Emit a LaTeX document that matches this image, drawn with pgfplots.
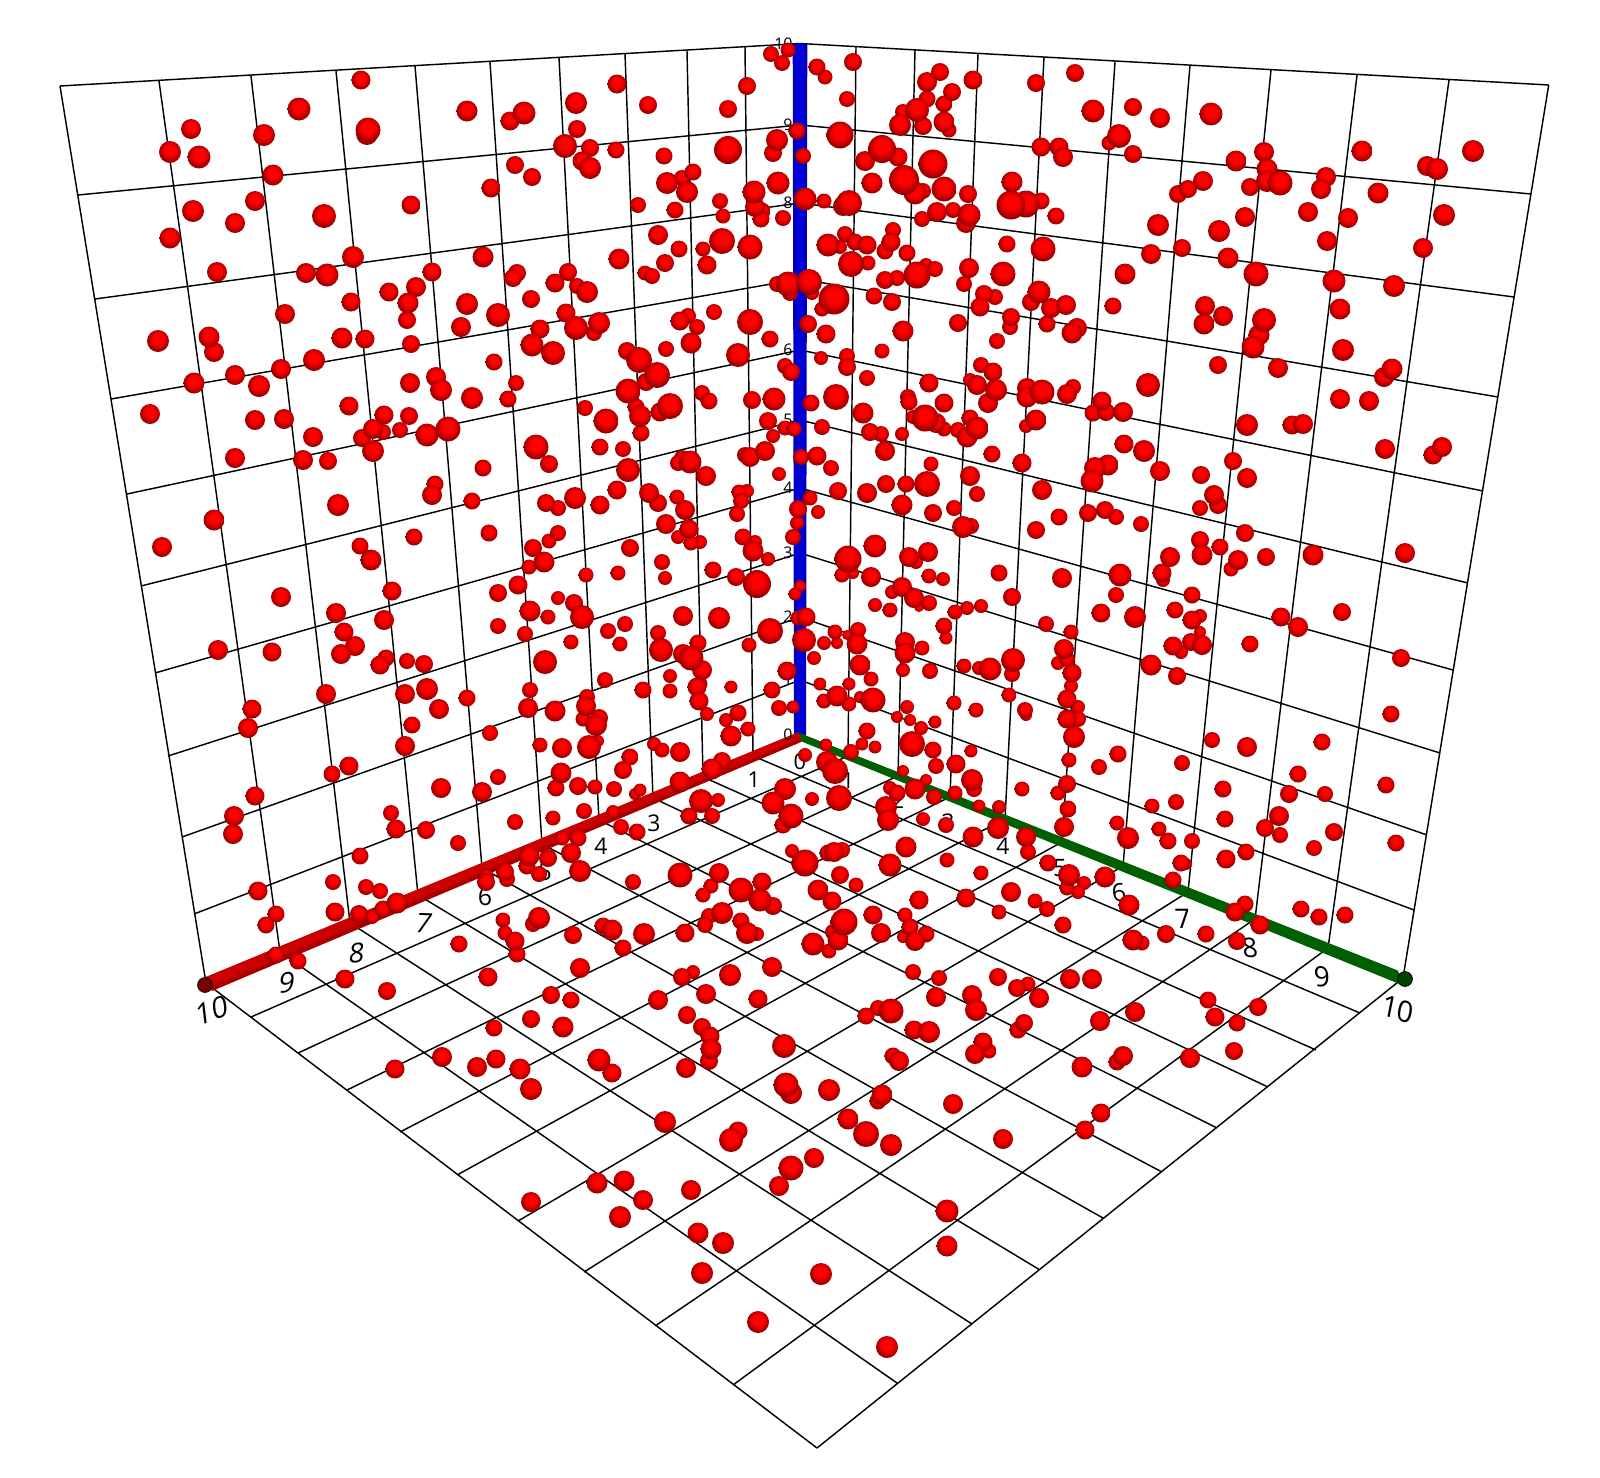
\documentclass[border=0pt]{standalone}
\usepackage{pgfplots}
\usepackage{pgfplotstable}
\usepackage{fontspec}
\pgfplotsset{compat=1.18}
\setmainfont{Open Sans}
\newfontfamily\leanL[FakeSlant=0.2]{Open Sans}
\newfontfamily\leanR[FakeSlant=-0.12]{Open Sans}
\definecolor{tuberedA}{HTML}{A80000}
\definecolor{tuberedB}{HTML}{CC0000}
\definecolor{tubegreen}{HTML}{005F00}
\definecolor{tubeblueA}{HTML}{0000BE}
\definecolor{tubeblueB}{HTML}{0000D8}
\definecolor{ballA}{RGB}{240,0,0}
\definecolor{ballB}{RGB}{210,0,0}
\definecolor{ballC}{RGB}{165,0,0}
\definecolor{ballD}{RGB}{110,0,0}
\definecolor{ballE}{RGB}{100,0,0}
\pgfdeclareradialshading{redball}{\pgfpoint{0bp}{6bp}}{%
  color(0bp)=(red); color(11bp)=(red); color(14bp)=(ballA); color(18bp)=(ballB);
  color(24bp)=(ballC); color(29bp)=(ballD); color(50bp)=(ballE)}
\pgfdeclareplotmark{rball}{%
  \pgfpathcircle{\pgfpointorigin}{\pgfplotmarksize}%
  \pgfshadepath{redball}{0}%
  \pgfusepath{discard}}
\pgfplotstableread{
x y r
361 80 9.5
299 109 11.5
367 134 11
368 130 12.5
191 129 10
264 135 11
170 152 11
199 157 11.5
273 175 10.5
255 201 10
193 211 11
235 223 10
324 216 12
170 238 10.5
217 272 10
353 257 11
306 273 10
327 275 11.5
351 302 9.5
389 292 9.5
285 314 10
158 341 11
209 337 10.5
214 352 10
342 338 10.5
365 339 9.5
314 360 11
281 369 10
235 375 10
259 386 11
194 383 10.5
150 414 10
349 406 9.5
384 415 9.5
255 420 10
284 419 10
313 437 10
373 429 10
383 432 8
362 438 9
373 451 11
235 458 10
303 460 10
328 461 9
338 505 11
467 111 10.5
510 121 9.5
524 113 11.5
576 103 11
577 129 9
617 84 9.5
648 105 9
728 109 9
747 86 9
771 54 8
788 50 7.5
782 63 8
565 146 12
590 148 9
616 150 8.5
582 161 9.5
590 168 11
515 165 9
532 177 9
664 156 8.5
728 150 14
777 140 11
773 153 9
797 131 8.5
803 156 8
491 188 9.5
411 205 9.5
638 205 8
682 178 8
667 183 11
693 172 8.5
687 192 11
720 201 8
675 210 8.5
723 216 7.5
754 192 11.5
778 183 11.5
805 199 11.5
755 207 10
762 211 8.5
761 219 8.5
783 218 8
658 235 10
679 249 8.5
703 249 7.5
722 241 13
750 247 12.5
707 265 9.5
619 259 10.5
665 263 9
645 273 7.5
652 276 8
483 257 10.5
432 272 9.5
517 273 9
513 278 9
568 272 9
555 283 9.5
577 286 8
587 292 11
416 287 10
408 303 10.5
531 299 9
467 304 11
498 315 12
407 320 9
461 327 10
566 313 9.5
599 323 11
576 328 12
594 333 8
540 329 9.5
411 344 9
532 345 11.5
553 353 12
494 362 8.5
777 284 8
788 284 12.5
809 282 13
790 293 8
688 316 8
680 321 9.5
697 327 8
714 312 8
750 322 13
691 343 10.5
770 339 8.5
808 324 9
627 351 9
639 360 13
666 349 8
738 355 12
785 366 8
791 372 9
657 375 13
646 382 9
628 391 12.5
516 383 8
410 383 10
436 377 10
441 390 11
472 398 11
508 399 8.5
702 393 8
709 401 8.5
752 400 9
774 399 11.5
811 403 8.5
585 408 8
636 407 8.5
660 412 9.5
670 406 13
640 416 11
606 421 12.5
409 416 9
427 435 11.5
448 429 12.5
400 430 8
641 433 8.5
768 421 9
785 428 7.5
794 429 7.5
773 436 7
600 447 8.5
623 449 8
536 447 12.5
549 464 9
483 468 8.5
682 458 8
678 463 8
690 462 11.5
706 476 10
628 470 12
745 455 8
750 457 10
765 451 10
801 457 8
817 456 9.5
779 474 7
435 484 8.5
432 495 10
472 501 8.5
617 490 9.5
649 493 10
658 503 9
677 497 7.5
739 492 7.5
747 491 7
741 501 8
810 498 7.5
575 498 11
546 503 9
600 505 9.5
558 508 8
685 510 10
798 509 9
817 67 8.5
825 77 7.5
853 62 9
847 99 8
940 72 9
927 82 10
952 92 9
973 80 9.5
1036 83 9
1075 73 9
927 99 8.5
944 104 8.5
903 112 8
917 110 12
900 125 11
923 126 9
944 122 10.5
949 130 7.5
1093 111 11.5
1133 107 9
1160 118 10
1119 136 12
1109 143 7.5
840 135 13.5
882 149 14
865 161 10
898 157 9.5
933 164 14.5
1041 147 9.5
1059 147 9.5
1063 157 10
1133 154 9
872 183 10.5
904 180 15
915 193 11.5
923 191 8
944 189 12.5
968 194 9
1012 182 10.5
1011 205 14.5
1026 204 13.5
1041 201 8.5
1056 216 8.5
1178 194 9
1188 189 9
824 201 7.5
843 206 10
849 203 13
922 219 8
937 212 10
953 210 8
969 215 11.5
966 223 10
1158 225 11
828 245 11.5
840 247 7
845 234 8
855 242 8.5
867 245 9.5
893 230 8
891 242 9.5
885 251 8.5
907 253 8.5
1007 244 8.5
1043 249 12.5
1151 254 10
1182 248 9
851 264 13
868 263 7.5
885 280 9
897 278 8
917 275 13.5
926 265 7
935 269 8
969 268 10
1003 274 12.5
1125 274 10.5
812 293 7
834 299 15.5
822 309 7.5
874 296 8.5
892 302 9
964 284 8
984 294 9
995 297 8
980 307 9.5
1031 302 9
1039 292 11.5
1051 308 10
1066 305 10
1113 306 8.5
826 334 9.5
903 331 10.5
958 323 9
1011 317 9
1010 327 8
1047 324 8.5
1077 328 10
1072 333 10.5
997 341 8
882 351 7.5
821 358 7
847 356 8
847 367 9
867 378 8
981 365 8
993 372 9.5
929 383 9.5
970 380 7
977 385 10
996 390 11
1073 387 8
1067 394 10
1027 388 10
1027 397 10.5
1042 392 12.5
1148 385 12
988 403 10
908 397 8
909 402 8.5
836 397 13
944 403 9.5
1102 401 9.5
1093 413 8.5
1106 412 9
1123 412 10
863 413 10.5
913 417 7
925 418 13.5
936 423 10
944 429 7.5
970 418 8.5
958 430 8
977 428 11.5
967 437 10.5
1026 426 7
1036 420 10.5
822 427 8
870 432 9
881 434 8
902 434 7
885 451 10
992 454 8.5
1022 463 9.5
1124 444 9.5
1144 451 11
831 468 8
931 464 7.5
970 476 10
1108 465 10.5
1095 468 11
1092 481 11.5
1160 471 10
838 491 9
867 493 10
886 484 9
906 484 8.5
927 484 13
977 494 8
1042 490 10
902 505 10.5
933 513 9
954 508 8
1088 513 9
1105 510 9
818 512 7
1211 114 11.5
1473 151 11
1362 151 10.5
1427 166 10
1437 169 11
1264 152 10
1236 161 10.5
1267 169 10.5
1267 181 11
1280 183 12.5
1250 187 9
1203 181 10
1326 177 10
1321 189 10
1378 193 10.5
1245 217 10
1308 212 10
1348 218 10
1444 215 11
1219 231 11
1327 241 10
1423 248 10
1228 258 10.5
1256 274 12.5
1334 281 11.5
1394 286 11
1340 309 10.5
1205 306 10
1223 316 10
1204 324 10.5
1264 320 12
1259 335 10.5
1253 347 11.5
1343 350 11
1218 365 9
1278 368 10
1392 369 10.5
1384 377 10
1340 399 10
1369 401 10
1247 425 11
1292 425 9.5
1303 424 10
1385 449 10
1442 447 10
1433 455 9.5
1233 461 9
1201 475 9
1247 478 10
1214 495 10
1218 505 9
1200 508 8
214 520 10.5
162 547 10
414 537 8.5
489 533 8.5
360 546 8.5
371 560 10.5
392 591 9.5
281 597 10
498 593 9
336 613 10
384 620 10
498 626 8
344 632 9.5
355 646 10
341 654 10
218 650 10
272 652 9.5
386 658 8.5
380 665 9.5
407 661 8
424 664 9
427 689 11
405 694 10
326 694 10
467 698 8.5
439 709 10
252 709 9.5
248 728 10
412 725 8.5
490 733 8
405 746 10
349 766 9.5
332 774 8.5
441 788 10
482 792 10
498 777 8
255 796 9.5
234 816 10
233 834 10
391 813 8
396 829 9.5
426 830 9
458 843 8
360 856 8.5
333 882 8
258 891 9.5
366 887 8
380 891 8
486 877 8
486 882 9
397 903 10.5
383 909 8.5
372 917 7
359 914 9
335 912 9.5
276 914 8.5
266 925 8.5
276 955 8.5
298 961 8.5
345 979 9.5
387 991 9
459 944 8.5
488 977 9.5
666 524 10
689 529 9.5
678 537 7
700 542 7
691 543 7.5
737 514 8
797 523 7
743 537 8.5
755 542 7
753 551 10.5
768 559 7
793 537 8
558 533 8
549 541 7.5
533 548 9
544 562 10.5
529 567 7.5
630 548 9
662 562 8
665 578 7
713 570 8.5
736 577 9
757 584 14
586 575 7.5
618 573 7.5
518 585 9.5
800 586 6
795 594 6.5
558 598 7
574 603 9
530 611 10.5
548 617 7.5
582 617 12
683 616 10
719 618 11
625 624 8
608 631 8
525 634 8
770 631 13
798 618 7.5
806 617 9.5
804 640 12
571 642 7.5
620 644 7.5
658 633 8
661 650 12
698 643 8.5
749 645 7.5
683 654 10
691 658 12.5
702 670 10
545 662 12
670 676 7
605 680 8
700 684 7.5
697 687 9.5
643 690 8.5
670 691 7.5
731 687 6.5
787 671 9.5
772 690 8.5
699 701 9.5
779 708 8
793 707 6.5
707 714 7
738 713 8.5
726 720 7
748 729 7.5
731 736 10.5
530 690 8
528 708 10
555 711 10.5
586 706 10
587 697 8
599 718 9
583 719 7.5
596 725 11
540 745 7.5
562 748 10
589 747 12
598 741 6
654 744 7
662 750 7.5
680 752 10
630 757 8.5
623 770 9
561 773 10.5
556 788 8.5
578 786 9
595 787 7.5
614 789 8
640 790 6.5
635 794 6
722 761 9
712 769 10.5
680 782 10.5
701 801 12
718 800 7
689 816 8.5
712 816 8
515 822 8
553 818 7.5
584 811 8
613 812 7
621 827 8
637 832 8.5
562 838 7.5
578 838 8.5
571 853 10
580 871 11
548 858 9
529 856 10.5
527 866 8.5
539 874 8
505 872 9
507 879 8
633 882 8
680 875 12.5
719 873 10
711 886 7.5
703 895 7.5
741 890 12.5
762 882 9.5
760 900 11.5
773 906 9
792 851 7
805 863 13.5
828 853 8.5
842 850 8
834 852 10
890 865 11.5
840 875 9
856 885 7.5
818 890 10.5
832 901 9.5
873 915 9.5
881 933 10
844 922 13.5
838 940 10.5
813 944 11.5
829 951 7.5
833 932 8
772 967 10
785 789 11
773 803 11.5
791 816 12.5
783 825 8.5
812 799 7
839 798 13
886 807 11
888 820 11
890 788 7
897 793 8.5
805 755 7
826 745 6.5
827 762 11
835 771 13
851 752 8
862 744 6.5
875 747 6.5
867 731 8.5
835 632 7.5
824 643 7
837 643 6
847 635 5
858 630 8
857 644 10.5
860 665 10.5
814 658 7
871 679 7.5
820 684 6.5
849 684 6.5
824 701 7.5
837 696 10.5
849 704 7.5
860 697 6
873 700 12.5
848 559 13.5
875 546 11.5
842 575 7.5
853 573 6
871 577 10
875 605 7
890 610 7.5
892 592 7
897 717 6
963 527 11
971 526 8
1036 530 9
1059 517 8.5
1116 517 8
1141 524 8
1245 533 9
928 552 10
909 557 10
916 562 7
1200 540 9
1220 547 8.5
1202 555 10.5
1170 557 10
1162 573 9.5
1163 580 7
1238 560 10
1231 569 7.5
1266 557 9
1313 555 10.5
1405 553 10
1120 575 11.5
1062 578 10
999 573 8.5
929 576 7.5
943 579 7
902 587 10
914 598 10
929 603 8
919 607 5
1012 597 9
1116 595 8
1192 595 8.5
955 612 7.5
967 608 7
981 606 7
1101 613 9.5
1135 617 11
1175 610 8.5
1281 617 9.5
1298 627 10
1342 612 9
1046 624 8
1192 620 9.5
1200 616 7
1200 632 6
944 626 8.5
946 638 6.5
1071 632 7.5
1191 642 9
1173 646 9.5
1181 652 7
1202 645 10
1250 644 8.5
1064 649 10
905 642 10
905 653 10.5
922 648 7.5
1401 658 9
1151 665 10.5
1177 676 9
1058 663 7
1067 659 8
1072 673 9.5
964 666 7.5
979 668 7
990 669 11.5
1013 660 12
1012 674 8
930 671 8
903 670 7
1071 686 7
1009 695 7.5
954 703 7.5
976 710 7.5
1025 710 8
1026 715 6
1067 699 9.5
1078 707 7
1067 719 9.5
1078 719 8
1391 714 8.5
907 707 7
910 720 6
935 722 6.5
921 728 7
912 744 13
933 750 8.5
1074 737 11
1212 740 8
1247 747 10
1322 742 8.5
971 751 6.5
1069 760 7.5
1118 754 8.5
1099 767 8
1182 763 8
936 766 8
956 764 9.5
1298 774 8.5
903 771 6
972 780 11
974 789 8
926 780 6
915 789 10.5
934 797 8
955 793 7.5
1022 789 7.5
1067 784 9
1058 793 7.5
1223 789 8.5
1289 794 9
1325 794 8
1386 785 8.5
1176 802 8
1152 806 7.5
979 806 6.5
999 807 7
1068 809 8.5
1225 819 8.5
1279 816 10
1064 827 10
998 828 11
1117 823 7.5
1159 829 7.5
1265 828 9
1280 835 8
1334 832 9
1396 843 8.5
1128 838 11
1168 841 8.5
1192 841 8
1314 848 8
973 837 10.5
946 825 8
923 819 7
1026 837 10
906 847 10.5
1028 852 8
1246 852 8.5
1226 859 9.5
947 860 7.5
1048 863 8.5
1181 863 8.5
1186 864 6
981 873 7.5
1069 875 11
1105 877 10.5
1084 883 7
1173 880 8.5
1067 888 7.5
1078 892 7
919 900 9.5
1011 892 10
966 898 9.5
1129 905 10.5
1035 901 7.5
1047 909 8
999 912 7.5
1245 904 8.5
1235 912 9.5
1301 909 8.5
1319 917 8.5
1345 915 8.5
1260 925 9.5
905 915 7.5
1063 925 8.5
910 927 8.5
926 934 8.5
903 937 6
915 941 10
1237 941 9
1166 934 9
1206 934 8.5
1133 940 10.5
1142 943 7.5
580 968 10
573 935 9
612 930 10.5
603 926 8.5
644 934 11
685 933 9.5
623 948 8.5
539 918 11
533 924 8
503 920 7.5
505 933 7.5
515 941 9.5
517 954 8.5
722 913 11
709 916 8
705 925 8
741 921 8.5
747 933 11
757 934 7
682 977 9
693 972 7
730 975 11
913 972 8
939 978 8
998 977 9
1028 984 7.5
1017 988 9
1070 979 10
1092 979 10
936 997 10
972 995 10
1039 998 10
1208 1000 8.5
1258 1007 9
976 1010 11
1135 1012 10
1215 1017 9.5
1237 1023 8.5
1023 1023 7
551 995 9
571 1000 8.5
531 1019 9
563 1027 10.5
494 1028 8.5
658 1000 10
706 994 10
758 999 9.5
687 1015 9
702 1027 9
710 1036 9.5
711 1049 10.5
709 1061 9
784 1046 12
442 1057 10
477 1067 10
496 1059 9.5
395 1069 9.5
520 1069 10.5
531 1089 11
599 1060 11.5
612 1073 9.5
686 1068 10
786 1085 12.5
791 1093 11
829 1090 11
848 1119 10.5
866 1134 13
665 1122 11
738 1131 9.5
731 1140 12
814 1158 10
791 1168 12.5
779 1186 10
531 1202 10
597 1183 10.5
624 1181 10.5
643 1200 10
620 1217 11
691 1190 10
698 1233 10.5
723 1243 11
702 1273 11
821 1274 11
758 1322 11
866 1016 8.5
878 1008 8
891 1011 12.5
914 1030 9.5
929 1032 11
893 1056 8.5
899 1061 10
983 1042 9.5
989 1051 7.5
975 1054 10
1018 1030 8.5
1024 1023 9
1100 1021 10
1234 1051 9
1190 1058 10
1123 1056 10
1117 1062 8.5
1082 1067 10.5
1101 1113 9.5
1085 1130 9.5
1003 1139 10
953 1104 10
882 1095 10.5
878 1101 8.5
891 1145 11
947 1211 11.5
947 1246 10.5
887 1347 11
}\balldata
\newcommand\ballbin[3]{%
  \addplot[only marks, mark=rball, mark size=#1pt,
    restrict expr to domain={\thisrow{r}}{#2:#3}]
    table[x=x,y=y]{\balldata};}
\begin{document}
\begin{tikzpicture}
\begin{axis}[
  scale only axis, width=800pt, height=738.5pt,
  xmin=0, xmax=1600, ymin=0, ymax=1477, y dir=reverse,
  hide axis, clip=false, unbounded coords=jump]
\path (axis cs:0,0) (axis cs:1600,1477);
% grid
\addplot[black, line width=0.72pt, mark=none] coordinates {
(60,86)(800,43.5) (nan,nan)
(60,86)(206,983) (nan,nan)
(159,81)(280,952) (nan,nan)
(251,76)(350,923) (nan,nan)
(336,71)(418,895) (nan,nan)
(415,66)(482,868) (nan,nan)
(490,62)(542,844) (nan,nan)
(559,58)(599,820) (nan,nan)
(625,54)(653,798) (nan,nan)
(687,51)(703,777) (nan,nan)
(745,47)(753,756) (nan,nan)
(78,195)(800,125) (nan,nan)
(95,299)(800,203) (nan,nan)
(111,399)(800,279) (nan,nan)
(127,494)(800,350) (nan,nan)
(141,586)(800,420) (nan,nan)
(155,673)(800,488) (nan,nan)
(168,756)(800,553) (nan,nan)
(182,837)(800,617) (nan,nan)
(194,914)(800,680) (nan,nan)
(800,43.5)(1548.7,85) (nan,nan)
(1548.7,85)(1403,978) (nan,nan)
(800,125)(1531,194) (nan,nan)
(800,203)(1514,297) (nan,nan)
(800,279)(1498,397) (nan,nan)
(800,350)(1483,491) (nan,nan)
(800,420)(1468,583) (nan,nan)
(800,488)(1453,670) (nan,nan)
(800,553)(1440,753) (nan,nan)
(800,617)(1427,835) (nan,nan)
(800,680)(1414,910) (nan,nan)
(856,47)(848,756) (nan,nan)
(915,50)(898,776) (nan,nan)
(978,54)(950,797) (nan,nan)
(1044,57)(1005,819) (nan,nan)
(1115,62)(1062,842) (nan,nan)
(1190,65)(1123,866) (nan,nan)
(1271,70)(1188,892) (nan,nan)
(1357,75)(1255,919) (nan,nan)
(1449,80)(1328,948) (nan,nan)
(753,756)(1360,1013) (nan,nan)
(703,777)(1316,1050) (nan,nan)
(653,798)(1268,1087) (nan,nan)
(599,820)(1217,1128) (nan,nan)
(542,844)(1162,1172) (nan,nan)
(482,868)(1103,1218) (nan,nan)
(418,895)(1040,1270) (nan,nan)
(350,923)(972,1324) (nan,nan)
(280,952)(897,1383) (nan,nan)
(206,983)(817,1448) (nan,nan)
(848,756)(251,1017) (nan,nan)
(898,776)(298,1053) (nan,nan)
(950,797)(347,1090) (nan,nan)
(1005,819)(400,1132) (nan,nan)
(1062,842)(457,1175) (nan,nan)
(1123,866)(518,1221) (nan,nan)
(1188,892)(584,1272) (nan,nan)
(1255,919)(655,1326) (nan,nan)
(1328,948)(733,1385) (nan,nan)
(1403,978)(817,1448)
};
% tubes
\addplot[fill=tubeblueA, draw=none] coordinates {(792.7,43.5)(807.3,43.5)(806,735)(794,735)};
\addplot[fill=tubeblueB, draw=none] coordinates {(796,43.5)(804,43.5)(803,735)(797,735)};
\addplot[only marks, mark=*, mark size=3.7pt, mark options={fill=tuberedA!70!black, draw=none}] coordinates {(205,985)};
\addplot[only marks, mark=*, mark size=3.7pt, mark options={fill=tubegreen!70!black, draw=none}] coordinates {(1405,979)};
\addplot[fill=tuberedA, draw=none] coordinates {(206,977)(212,991)(802,741.6)(798,732.4)};
\addplot[fill=tuberedB, draw=none] coordinates {(206,977)(210,986.5)(800.7,738.5)(798,732.4)};
\addplot[fill=tubegreen, draw=none] coordinates {(1398,970.6)(1403,985.4)(801.9,741.6)(798.1,732.4)};
% labels
\node[font=\fontsize{14.5}{14.5}\leanL,rotate=18] at (axis cs:210,1011) {10};
\node[font=\fontsize{14}{14}\leanL,rotate=5] at (axis cs:285,983) {9};
\node[font=\fontsize{13.5}{13.5}\leanL,rotate=5] at (axis cs:355,953) {8};
\node[font=\fontsize{13.5}{13.5}\leanL,rotate=-2] at (axis cs:422,923) {7};
\node[font=\fontsize{12.5}{12.5}\selectfont] at (axis cs:485,897) {6};
\node[font=\fontsize{12}{12}\selectfont] at (axis cs:545,872) {5};
\node[font=\fontsize{11.5}{11.5}\selectfont] at (axis cs:601,846) {4};
\node[font=\fontsize{11.5}{11.5}\selectfont] at (axis cs:654,823) {3};
\node[font=\fontsize{11}{11}\selectfont] at (axis cs:705,801) {2};
\node[font=\fontsize{11}{11}\selectfont] at (axis cs:754,780) {1};
\node[font=\fontsize{11}{11}\selectfont] at (axis cs:800,762) {0};
\node[font=\fontsize{11}{11}\selectfont] at (axis cs:848,781) {1};
\node[font=\fontsize{11}{11}\selectfont] at (axis cs:898,801) {2};
\node[font=\fontsize{11.5}{11.5}\selectfont] at (axis cs:948,822) {3};
\node[font=\fontsize{11.5}{11.5}\selectfont] at (axis cs:1003,846) {4};
\node[font=\fontsize{12}{12}\selectfont] at (axis cs:1060,868) {5};
\node[font=\fontsize{12.5}{12.5}\leanR] at (axis cs:1120,893) {6};
\node[font=\fontsize{13.5}{13.5}\leanR] at (axis cs:1184,919) {7};
\node[font=\fontsize{13.5}{13.5}\leanR] at (axis cs:1251,948) {8};
\node[font=\fontsize{14}{14}\leanR,rotate=-3] at (axis cs:1323,977) {9};
\node[font=\fontsize{14.5}{14.5}\leanR,rotate=-18] at (axis cs:1399,1010) {10};
\node[font=\fontsize{8}{8}\selectfont,anchor=east,inner sep=0pt] at (axis cs:793,44) {10};
\node[font=\fontsize{8}{8}\selectfont,anchor=east,inner sep=0pt] at (axis cs:793,125) {9};
\node[font=\fontsize{8}{8}\selectfont,anchor=east,inner sep=0pt] at (axis cs:793,203) {8};
\node[font=\fontsize{8}{8}\selectfont,anchor=east,inner sep=0pt] at (axis cs:793,279) {7};
\node[font=\fontsize{8}{8}\selectfont,anchor=east,inner sep=0pt] at (axis cs:793,350) {6};
\node[font=\fontsize{8}{8}\selectfont,anchor=east,inner sep=0pt] at (axis cs:793,420) {5};
\node[font=\fontsize{8}{8}\selectfont,anchor=east,inner sep=0pt] at (axis cs:793,488) {4};
\node[font=\fontsize{8}{8}\selectfont,anchor=east,inner sep=0pt] at (axis cs:793,553) {3};
\node[font=\fontsize{8}{8}\selectfont,anchor=east,inner sep=0pt] at (axis cs:793,617) {2};
\node[font=\fontsize{8}{8}\selectfont,anchor=east,inner sep=0pt] at (axis cs:793,680) {1};
\node[font=\fontsize{8}{8}\selectfont,anchor=east,inner sep=0pt] at (axis cs:793,735) {0};
% balls, radius in picture units (1 unit = 0.5pt)
\ballbin{2.5}{4}{5.2}
\ballbin{3}{5.3}{6.2}
\ballbin{3.25}{6.3}{6.7}
\ballbin{3.5}{6.8}{7.2}
\ballbin{3.75}{7.3}{7.7}
\ballbin{4}{7.8}{8.2}
\ballbin{4.25}{8.3}{8.7}
\ballbin{4.5}{8.8}{9.2}
\ballbin{4.75}{9.3}{9.7}
\ballbin{5}{9.8}{10.2}
\ballbin{5.25}{10.3}{10.7}
\ballbin{5.5}{10.8}{11.2}
\ballbin{5.75}{11.3}{11.7}
\ballbin{6}{11.8}{12.2}
\ballbin{6.25}{12.3}{12.7}
\ballbin{6.5}{12.8}{13.2}
\ballbin{6.75}{13.3}{13.7}
\ballbin{7}{13.8}{14.2}
\ballbin{7.25}{14.3}{14.7}
\ballbin{7.5}{14.8}{15.2}
\ballbin{7.75}{15.3}{15.7}
\end{axis}
\end{tikzpicture}
\end{document}
